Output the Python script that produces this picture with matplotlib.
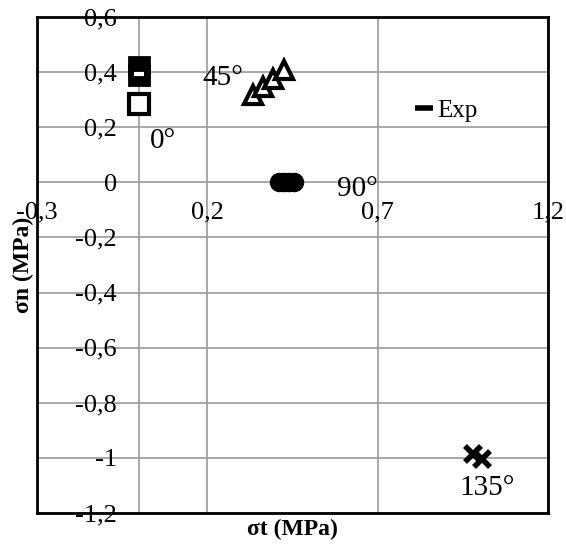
import matplotlib.pyplot as plt
from matplotlib.lines import Line2D

plt.rcParams['font.family'] = ['Liberation Serif', 'DejaVu Serif']

#%% data

# 0 deg (squares)
sq_full_x = [0.0, 0.0]
sq_full_y = [0.42, 0.39]
sq_open_x = [0.0]
sq_open_y = [0.284]

# 45 deg (triangles)
tri_x = [0.335, 0.362, 0.394, 0.424]
tri_y = [0.316, 0.345, 0.375, 0.407]

# 90 deg (circles)
circ_x = [0.41, 0.425, 0.44, 0.455]
circ_y = [0.0, 0.0, 0.0, 0.0]

# 135 deg (crosses)
cross_x = [0.979, 1.006]
cross_y = [-0.985, -1.005]

# experimental points
exp_x = [0.0]
exp_y = [0.395]

xticks = [-0.3, 0.2, 0.7, 1.2]
yticks = [0.6, 0.4, 0.2, 0, -0.2, -0.4, -0.6, -0.8, -1, -1.2]

labels = ["0°", "45°", "90°", "135°"]
label_x = [0.07, 0.244, 0.641, 1.02]
label_y = [0.149, 0.378, -0.025, -1.11]


def fmt(v):
    s = ("%g" % v).replace(".", ",")
    return s


#%% plotting

fig = plt.figure(figsize=(5.66, 5.46), dpi=100)
ax = fig.add_axes([0.0654, 0.0604, 0.903, 0.9084])
ax.set_xlim(-0.3, 1.2)
ax.set_ylim(-1.2, 0.6)

ax.set_xticks(xticks)
ax.set_yticks(yticks)
ax.tick_params(length=0, labelleft=False, labelbottom=False)
ax.grid(True, color="#9a9a9a", linewidth=1.2)
ax.axvline(0, color="#9a9a9a", linewidth=1.2, zorder=0.5)
for sp in ax.spines.values():
    sp.set_linewidth(2)
    sp.set_color("black")

# tick labels sit on the axes crossing at (0, 0)
for v in yticks:
    ax.text(-0.065, v - 0.008, fmt(v), ha="right", va="center", fontsize=19)
for v in xticks:
    ax.text(v, -0.068, fmt(v), ha="center", va="top", fontsize=19)

ax.plot(sq_full_x, sq_full_y, "s", color="black", ms=15, mew=2, zorder=3)
ax.plot(sq_open_x, sq_open_y, "s", mfc="white", mec="black", ms=14, mew=3, zorder=3)
ax.plot(tri_x, tri_y, "^", mfc="white", mec="black", ms=13, mew=3, zorder=3)
ax.plot(circ_x, circ_y, "o", color="black", ms=13, zorder=3)
ax.plot(cross_x, cross_y, "x", color="black", ms=12, mew=4, zorder=3)
ax.plot(exp_x, exp_y, "_", color="white", ms=7, mew=3, zorder=4)

for t, x, y in zip(labels, label_x, label_y):
    ax.text(x, y, t, ha="center", va="center", fontsize=21)

handle = Line2D([], [], marker="_", color="black", ls="none", ms=13, mew=4)
ax.legend([handle], ["Exp"], loc="center left", bbox_to_anchor=(0.74, 0.812),
          frameon=False, fontsize=18, handlelength=0.72, handletextpad=0.16,
          borderpad=0, borderaxespad=0)

ax.set_xlabel("σt (MPa)", fontsize=17, fontweight="bold", labelpad=4)
ax.set_ylabel("σn (MPa)", fontsize=17, fontweight="bold", labelpad=2)

plt.savefig("out.png", dpi=100)
